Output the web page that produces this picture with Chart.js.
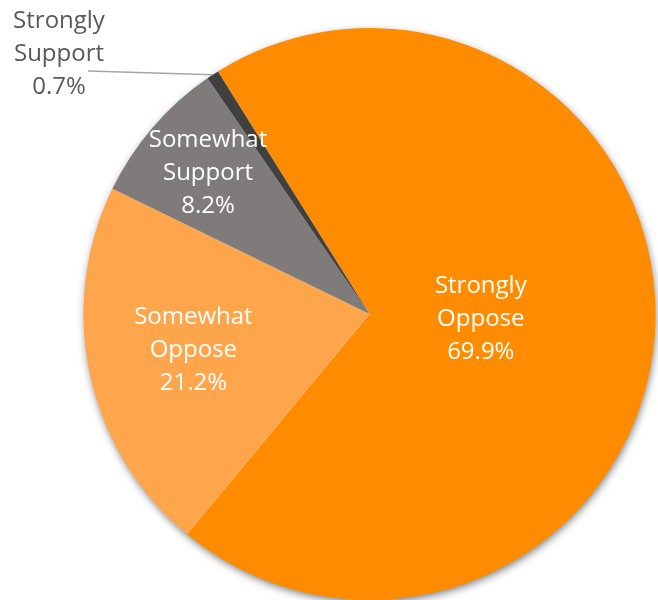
<!DOCTYPE html>
<html>
<head>
<meta charset="utf-8">
<script src="https://cdn.jsdelivr.net/npm/chart.js@4"></script>
<style>
  body { margin: 0; background: #fff; }
  #wrap { width: 658px; height: 600px; position: relative; }
</style>
</head>
<body>
<div id="wrap"><canvas id="myChart"></canvas></div>
<script>
// chart data
const categories = ["Strongly Oppose", "Somewhat Oppose", "Somewhat Support", "Strongly Support"];
const shares = [69.9, 21.2, 8.2, 0.7];
const sliceColors = ["#FF8C00", "#FFA64D", "#7F7B7B", "#404040"];

// label placement, fraction of the radius (null = outside with leader line)
const labelSpots = [0.39, 0.63, 0.745, null];

const shadowPlugin = {
  id: "pieShadow",
  beforeDatasetsDraw(chart) {
    const arc = chart.getDatasetMeta(0).data[0];
    if (!arc) return;
    const ctx = chart.ctx;
    ctx.save();
    ctx.shadowColor = "rgba(0,0,0,0.55)";
    ctx.shadowBlur = 9;
    ctx.shadowOffsetX = 1;
    ctx.shadowOffsetY = 3;
    ctx.fillStyle = "#ffffff";
    ctx.beginPath();
    ctx.arc(arc.x, arc.y, arc.outerRadius - 1, 0, Math.PI * 2);
    ctx.fill();
    ctx.restore();
  },
};

const labelPlugin = {
  id: "sliceLabels",
  afterDatasetsDraw(chart) {
    const ctx = chart.ctx;
    const meta = chart.getDatasetMeta(0);
    ctx.save();
    ctx.font = "24px 'Open Sans'";
    ctx.textAlign = "center";
    ctx.textBaseline = "middle";
    const lineH = 33;
    meta.data.forEach((arc, i) => {
      const words = categories[i].split(" ");
      const lines = [words[0], words[1], shares[i].toFixed(1) + "%"];
      const mid = (arc.startAngle + arc.endAngle) / 2;
      let x, y;
      if (labelSpots[i] != null) {
        x = arc.x + Math.cos(mid) * arc.outerRadius * labelSpots[i];
        y = arc.y + Math.sin(mid) * arc.outerRadius * labelSpots[i];
        ctx.fillStyle = "#ffffff";
      } else {
        // outside label with leader line
        const ex = arc.x + Math.cos(mid) * arc.outerRadius;
        const ey = arc.y + Math.sin(mid) * arc.outerRadius;
        x = 59;
        y = 56;
        ctx.strokeStyle = "#a6a6a6";
        ctx.lineWidth = 1.5;
        ctx.beginPath();
        ctx.moveTo(ex, ey);
        ctx.lineTo(88, 71);
        ctx.stroke();
        ctx.fillStyle = "#595959";
      }
      lines.forEach((t, k) => {
        ctx.fillText(t, x, y + (k - 1) * lineH - 2);
      });
    });
    ctx.restore();
  },
};

const ctx = document.getElementById("myChart").getContext("2d");
const myChart = new Chart(ctx, {
  type: "pie",
  data: {
    labels: categories,
    datasets: [
      {
        data: shares,
        backgroundColor: sliceColors,
        borderWidth: 0,
      },
    ],
  },
  options: {
    responsive: true,
    maintainAspectRatio: false,
    animation: false,
    rotation: -32,
    layout: { padding: { left: 83, right: 2, top: 28, bottom: 0 } },
    plugins: {
      legend: { display: false },
      tooltip: { enabled: false },
    },
  },
  plugins: [shadowPlugin, labelPlugin],
});
</script>
</body>
</html>
